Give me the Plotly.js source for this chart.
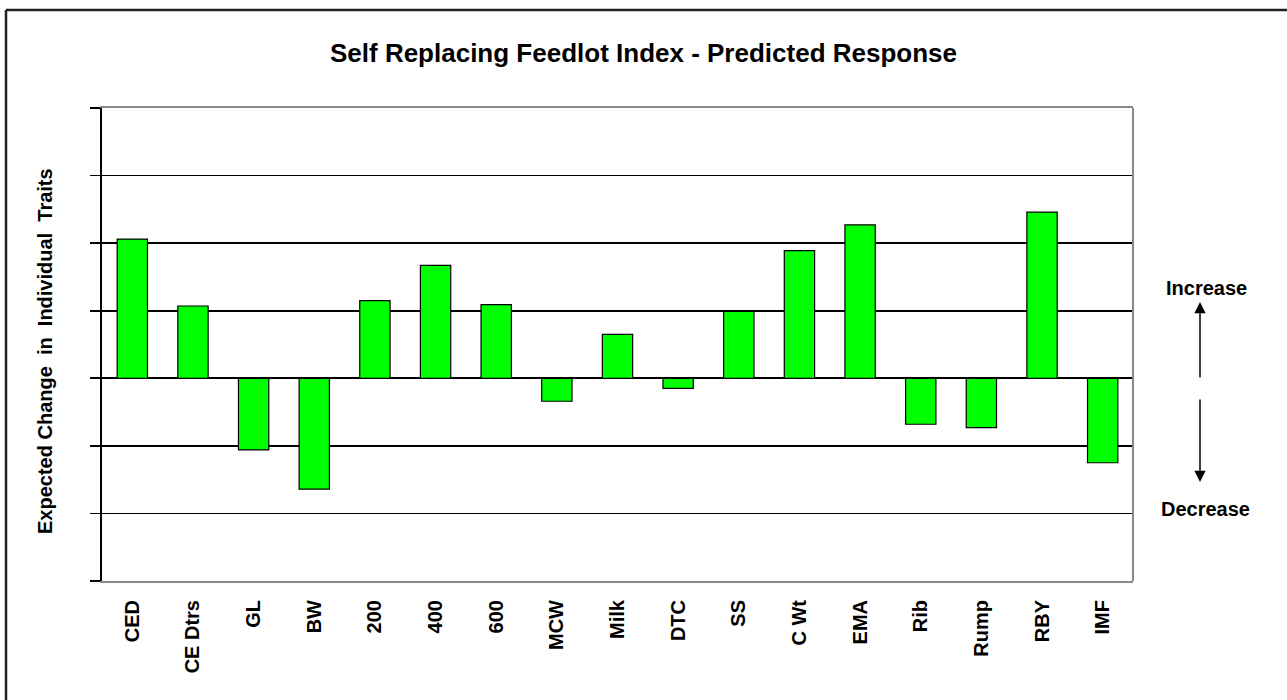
<!DOCTYPE html>
<html>
<head>
<meta charset="utf-8">
<script src="https://cdn.plot.ly/plotly-3.0.1.min.js"></script>
<style>
html,body{margin:0;padding:0;background:#fff;}
#chart{width:1287px;height:700px;}
</style>
</head>
<body>
<div id="chart"></div>
<script>
const traits = ["CED","CE Dtrs","GL","BW","200","400","600","MCW","Milk","DTC","SS","C Wt","EMA","Rib","Rump","RBY","IMF"];
const response = [2.06,1.07,-1.06,-1.64,1.15,1.67,1.09,-0.34,0.65,-0.15,0.99,1.89,2.27,-0.68,-0.73,2.46,-1.25];
const yTicks = [-3,-2,-1,0,1,2,3,4];

const trace = {
  type: "bar",
  x: traits,
  y: response,
  marker: {color: "#00FF00", line: {color: "#000000", width: 1.2}},
  hoverinfo: "x+y"
};

const L = 102, R = 1133, T = 108, B = 581;
const pw = R - L, ph = B - T;
function px(x){ return (x - L) / pw; }
function py(y){ return (B - y) / ph; }

const layout = {
  width: 1287, height: 700,
  margin: {l: L, r: 1287 - R, t: T, b: 700 - B, pad: 0},
  paper_bgcolor: "#ffffff",
  plot_bgcolor: "#ffffff",
  showlegend: false,
  bargap: 0.5,
  font: {family: "Arial, 'Liberation Sans', sans-serif", color: "#000"},
  title: {
    text: "<b>Self Replacing Feedlot Index - Predicted Response</b>",
    font: {size: 26, family: "Arial, 'Liberation Sans', sans-serif", color: "#000"},
    x: 0.5, xref: "container", xanchor: "center",
    y: 1 - 53/700, yref: "container", yanchor: "middle"
  },
  xaxis: {
    type: "category",
    tickangle: -90,
    ticks: "",
    showgrid: false,
    showline: true, linecolor: "#888888", linewidth: 2, mirror: true,
    tickfont: {size: 20, family: "Arial, 'Liberation Sans', sans-serif", color: "#000", weight: "bold"},
    ticklabelstandoff: 9,
    zeroline: false
  },
  yaxis: {
    range: [-3, 4],
    tickvals: yTicks,
    showticklabels: false,
    ticks: "outside", ticklen: 10, tickwidth: 1.8, tickcolor: "#000",
    showgrid: true, gridcolor: "#000", gridwidth: 1.8,
    zeroline: true, zerolinecolor: "#000", zerolinewidth: 1.8,
    showline: true, linecolor: "#000", linewidth: 2
  },
  shapes: [
    {type: "line", xref: "paper", yref: "paper", x0: 1, x1: 1, y0: 0, y1: 1, line: {color: "#888888", width: 2}},
    {type: "line", xref: "paper", yref: "paper", x0: px(6), x1: px(6), y0: py(10), y1: py(760), line: {color: "#222", width: 2.5}},
    {type: "line", xref: "paper", yref: "paper", x0: px(6), x1: px(1330), y0: py(10), y1: py(10), line: {color: "#222", width: 2.5}}
  ],
  annotations: [
    {xref: "paper", yref: "paper", x: px(45), y: py(351), text: "<b>Expected Change  in  Individual  Traits</b>", textangle: -90, showarrow: false,
     font: {size: 20, color: "#000"}, xanchor: "center", yanchor: "middle"},
    {xref: "paper", yref: "paper", x: px(1206), y: py(288), text: "<b>Increase</b>", showarrow: false,
     font: {size: 20, color: "#000"}, xanchor: "center", yanchor: "middle"},
    {xref: "paper", yref: "paper", x: px(1205), y: py(509), text: "<b>Decrease</b>", showarrow: false,
     font: {size: 20, color: "#000"}, xanchor: "center", yanchor: "middle"},
    {xref: "paper", yref: "paper", x: px(1200), y: py(302), text: "", showarrow: true, arrowhead: 2, arrowsize: 1.5, arrowwidth: 1.5, arrowcolor: "#000",
     axref: "pixel", ayref: "pixel", ax: 0, ay: 77},
    {xref: "paper", yref: "paper", x: px(1200), y: py(482), text: "", showarrow: true, arrowhead: 2, arrowsize: 1.5, arrowwidth: 1.5, arrowcolor: "#000",
     axref: "pixel", ayref: "pixel", ax: 0, ay: -84}
  ]
};

Plotly.newPlot("chart", [trace], layout, {displayModeBar: false, staticPlot: true});
</script>
</body>
</html>
